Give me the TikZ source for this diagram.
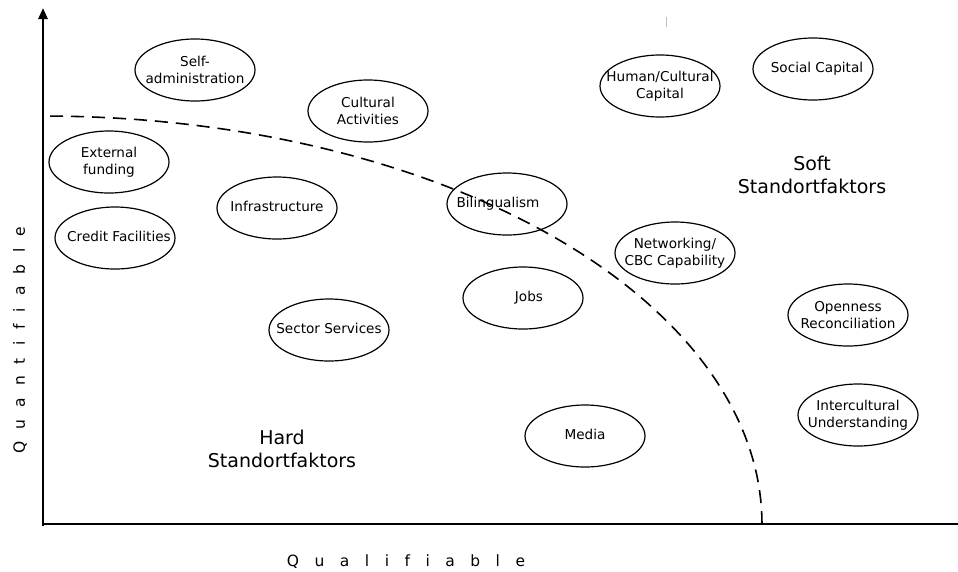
\documentclass[tikz,border=0pt]{standalone}
\usepackage{fontspec}
\setmainfont{DejaVu Sans}
\usetikzlibrary{shapes.geometric,arrows.meta}
\newcommand{\ovl}[1]{\makebox[0pt]{#1}}
\newcommand{\ovu}[1]{\makebox[0pt]{\raisebox{3pt}{#1}}}
\begin{document}
\begin{tikzpicture}[x=1pt,y=-1pt,
  oval/.style={draw, ellipse, line width=1.2pt, minimum width=120pt, minimum height=62pt,
    inner sep=0pt, align=center, font=\fontsize{13.6}{17}\selectfont},
  zone/.style={align=center, font=\fontsize{19}{23}\selectfont},
  axisline/.style={line width=2.6pt},
  boundary/.style={line width=1.6pt, dash pattern=on 13pt off 8pt},
  axislabel/.style={font=\fontsize{15.5}{18}\selectfont, inner sep=0pt}]
\useasboundingbox (0,0) rectangle (958,571);
% axes
\coordinate (origin) at (43,526);
\coordinate (ytop) at (43,8);
\coordinate (xend) at (958,524);
\coordinate (xstart) at (43,524);
\draw[axisline, -{Triangle[length=11pt,width=9pt]}] (origin) -- (ytop);
\draw[axisline] (xstart) -- (xend);
% boundary curve
\draw[boundary] plot[domain=0:90, samples=80] ({43+719*cos(\x)}, {524-408*sin(\x)});
% stray tick
\draw[gray!50, line width=1pt] (666,17) -- (666,27);
% ovals
\node[oval] (selfadm) at (195,70) {\ovl{Self-}\\\ovl{administration}};
\node[oval] (cultact) at (368,111) {\ovl{Cultural}\\\ovl{Activities}};
\node[oval] (extfund) at (109,162) {\ovl{External}\\\ovl{funding}};
\node[oval] (infra) at (277,208) {\ovu{Infrastructure}};
\node[oval] (credit) at (115,238) {\ovu{\hspace{8pt}Credit Facilities}};
\node[oval] (biling) at (507,204) {\ovu{Bilingualism\hspace{18pt}}};
\node[oval] (human) at (660,86) {\ovl{Human/Cultural}\\\ovl{Capital}};
\node[oval] (social) at (813,69) {\ovl{\hspace{8pt}Social Capital}};
\node[oval] (network) at (675,253) {\ovl{Networking/}\\\ovl{CBC Capability}};
\node[oval] (sector) at (329,330) {\ovu{Sector Services}};
\node[oval] (jobs) at (523,298) {\ovu{\hspace{12pt}Jobs}};
\node[oval] (open) at (848,315) {\ovl{Openness}\\\ovl{Reconciliation}};
\node[oval] (intercult) at (858,415) {\ovl{Intercultural}\\\ovl{Understanding}};
\node[oval] (media) at (585,436) {\ovu{Media}};
% zone labels
\node[zone] (soft) at (812,175) {Soft\\Standortfaktors};
\node[zone] (hard) at (282,449) {Hard\\Standortfaktors};
% axis labels
\node[axislabel] (qual) at (406,562) {\spaceskip=15.5pt\relax Q u a l i f i a b l e};
\node[axislabel, rotate=90] (quant) at (20,340) {\spaceskip=12pt\relax Q u a n t i f i a b l e};
\end{tikzpicture}
\end{document}
